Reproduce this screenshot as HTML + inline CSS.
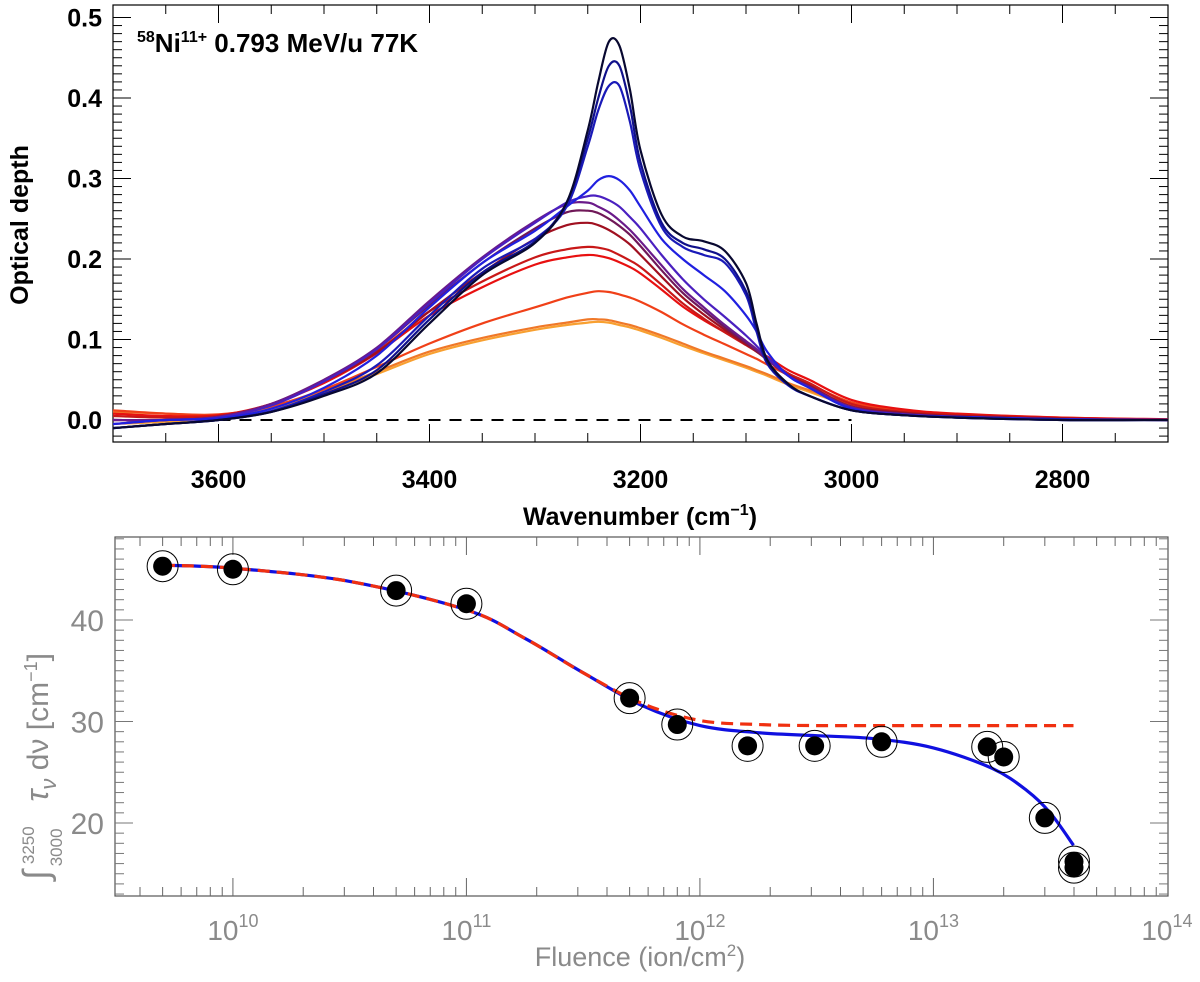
<!DOCTYPE html>
<html><head><meta charset="utf-8"><style>
html,body{margin:0;padding:0;background:#fff;}
svg{display:block;}
.t{font-family:"Liberation Sans",sans-serif;font-weight:bold;fill:#000;}
.g{font-family:"Liberation Sans",sans-serif;fill:#8a8a8a;}
</style></head><body>
<svg id="chart" width="1200" height="982" viewBox="0 0 1200 982">
<g id="topPanel"></g>
<g id="botPanel"></g>
</svg>
<script>
// ---------- top panel data ----------
const wn = [3700,3650,3600,3550,3500,3450,3400,3350,3300,3270,3250,3240,3230,3220,3210,3200,3180,3160,3140,3120,3100,3090,3080,3060,3040,3000,2950,2900,2800,2700];
const s1  = [-0.01,-0.005,0.0,0.01,0.03,0.058,0.12,0.18,0.22,0.27,0.36,0.42,0.47,0.465,0.41,0.335,0.255,0.228,0.222,0.21,0.17,0.12,0.075,0.045,0.03,0.012,0.006,0.003,0.0,0.0];
const s2  = [-0.01,-0.005,0.0,0.01,0.032,0.062,0.125,0.183,0.222,0.27,0.35,0.40,0.44,0.44,0.39,0.32,0.245,0.22,0.212,0.2,0.16,0.115,0.072,0.044,0.03,0.012,0.006,0.003,0.0,0.0];
const s3  = [-0.01,-0.005,0.0,0.011,0.035,0.068,0.13,0.188,0.225,0.265,0.34,0.385,0.415,0.415,0.37,0.31,0.24,0.215,0.205,0.195,0.155,0.11,0.07,0.043,0.03,0.012,0.006,0.003,0.0,0.0];
const s4  = [-0.005,0.0,0.002,0.014,0.04,0.08,0.14,0.195,0.235,0.265,0.285,0.298,0.303,0.298,0.285,0.265,0.225,0.2,0.18,0.16,0.13,0.11,0.085,0.055,0.04,0.014,0.006,0.004,0.001,0.0];
const s5  = [-0.005,0.0,0.003,0.018,0.048,0.088,0.145,0.2,0.245,0.27,0.278,0.278,0.273,0.265,0.252,0.238,0.205,0.175,0.15,0.128,0.105,0.092,0.078,0.055,0.04,0.015,0.007,0.004,0.001,0.0];
const s6  = [0.0,0.0,0.004,0.02,0.05,0.09,0.148,0.202,0.247,0.268,0.27,0.265,0.258,0.248,0.236,0.222,0.192,0.163,0.14,0.118,0.098,0.088,0.076,0.055,0.041,0.016,0.007,0.004,0.001,0.0];
const s7  = [0.0,0.0,0.004,0.02,0.05,0.088,0.143,0.195,0.238,0.258,0.26,0.257,0.25,0.241,0.23,0.216,0.186,0.158,0.136,0.115,0.096,0.086,0.075,0.055,0.042,0.016,0.008,0.004,0.001,0.0];
const s8  = [0.0,0.0,0.004,0.019,0.048,0.084,0.135,0.183,0.225,0.242,0.245,0.242,0.236,0.228,0.218,0.205,0.178,0.152,0.131,0.112,0.094,0.085,0.075,0.056,0.043,0.017,0.009,0.005,0.002,0.0];
const s9  = [0.005,0.003,0.005,0.02,0.048,0.085,0.135,0.172,0.202,0.212,0.215,0.214,0.211,0.205,0.198,0.19,0.168,0.145,0.126,0.109,0.093,0.085,0.076,0.058,0.046,0.02,0.01,0.006,0.002,0.0];
const s10 = [0.008,0.005,0.006,0.02,0.046,0.083,0.13,0.165,0.193,0.202,0.205,0.204,0.201,0.196,0.19,0.182,0.162,0.141,0.124,0.109,0.094,0.087,0.079,0.062,0.05,0.025,0.013,0.008,0.003,0.001];
const s11 = [0.012,0.008,0.007,0.017,0.038,0.066,0.095,0.12,0.14,0.152,0.158,0.16,0.159,0.156,0.152,0.147,0.134,0.119,0.106,0.094,0.082,0.076,0.069,0.056,0.045,0.022,0.012,0.007,0.003,0.0];
const s12 = [0.01,0.008,0.006,0.016,0.035,0.06,0.085,0.102,0.115,0.121,0.125,0.125,0.124,0.121,0.118,0.114,0.105,0.095,0.085,0.076,0.067,0.062,0.057,0.046,0.037,0.02,0.01,0.006,0.002,0.0];
const s13 = [-0.005,-0.002,0.003,0.014,0.033,0.057,0.082,0.099,0.112,0.118,0.121,0.122,0.121,0.118,0.115,0.111,0.102,0.092,0.083,0.074,0.065,0.06,0.055,0.044,0.035,0.018,0.008,0.005,0.002,0.0];
const series = [s13,s12,s11,s10,s9,s8,s7,s6,s5,s4,s3,s2,s1];
const seriesColors = ["#f8a030","#f07828","#f04018","#e81010","#c81818","#a01020","#701858","#6a1a8a","#4a20c0","#2020e0","#1a1ab8","#10108a","#080830"];
const xTicks = [3600,3400,3200,3000,2800];
const yTicks = [0.0,0.1,0.2,0.3,0.4,0.5];

// ---------- bottom panel data ----------
const fluence = [5e9,1e10,5e10,1e11,5e11,8e11,1.6e12,3.1e12,6e12,1.7e13,2e13,3e13,4e13,4e13];
const area = [45.3,45.0,42.9,41.6,32.3,29.7,27.6,27.6,28.0,27.5,26.5,20.5,16.2,15.6];
const fitLogF = [9.7,10,10.5,11,11.25,11.5,11.75,12,12.25,12.5,12.75,13,13.25,13.4,13.5,13.6];
const fitBlue = [45.4,45.1,43.8,41.0,38.2,34.8,31.6,29.6,28.9,28.6,28.3,27.4,25.4,23.2,21.0,17.8];
const fitRed  = [45.4,45.1,43.8,41.0,38.2,34.8,31.8,30.1,29.7,29.6,29.6,29.6,29.6,29.6,29.6,29.6];
const bxTicks = [10,11,12,13,14];
const byTicks = [20,30,40];

const NS="http://www.w3.org/2000/svg";
function mk(parent,tag,attrs,text){const el=document.createElementNS(NS,tag);for(const k in attrs)el.setAttribute(k,attrs[k]);if(text!==undefined)el.textContent=text;parent.appendChild(el);return el;}
function smooth(P){let d='M'+P[0][0].toFixed(1)+','+P[0][1].toFixed(1);
 for(let i=0;i<P.length-1;i++){const p0=P[Math.max(0,i-1)],p1=P[i],p2=P[i+1],p3=P[Math.min(P.length-1,i+2)];
  const c1=[p1[0]+(p2[0]-p0[0])/6,p1[1]+(p2[1]-p0[1])/6],c2=[p2[0]-(p3[0]-p1[0])/6,p2[1]-(p3[1]-p1[1])/6];
  d+=' C'+c1[0].toFixed(1)+','+c1[1].toFixed(1)+' '+c2[0].toFixed(1)+','+c2[1].toFixed(1)+' '+p2[0].toFixed(1)+','+p2[1].toFixed(1);}
 return d;}

// ===== TOP =====
const topG=document.getElementById('topPanel');
const TL=113,TR=1168,TT=5,TB=442;
const tx=w=>TL+(3700-w)*(TR-TL)/1000;
const ty=v=>420-v*805;
let e=mk(topG,'rect',{x:TL,y:TT,width:TR-TL,height:TB-TT,fill:'none',stroke:'#000','stroke-width':1.2});


for(let w=3700;w>=2700;w-=50){const L=(w%200===0)?18:9;
 mk(topG,'line',{x1:tx(w),x2:tx(w),y1:TB,y2:TB-L,stroke:'#000'});mk(topG,'line',{x1:tx(w),x2:tx(w),y1:TT,y2:TT+L,stroke:'#000'});}
for(let i=-2;i<=50;i++){const v=i/100;if(ty(v)<TT||ty(v)>TB)continue;const L=(i%10===0)?18:9;
 mk(topG,'line',{x1:TL,x2:TL+L,y1:ty(v),y2:ty(v),stroke:'#000'});mk(topG,'line',{x1:TR,x2:TR-L,y1:ty(v),y2:ty(v),stroke:'#000'});}
xTicks.forEach(w=>{const t=mk(topG,'text',{x:tx(w),y:488,'text-anchor':'middle','font-size':25,class:'t'},String(w));
 
 });
yTicks.forEach(v=>{const t=mk(topG,'text',{x:102,y:ty(v)+9,'text-anchor':'end','font-size':25,class:'t'},v.toFixed(1));
 
 });
e=mk(topG,'text',{x:640,y:525,'text-anchor':'middle','font-size':25,class:'t'});


e.innerHTML='Wavenumber (cm<tspan dy="-10" font-size="16">−1</tspan><tspan dy="10">)</tspan>';
e=mk(topG,'text',{x:0,y:0,'text-anchor':'middle','font-size':25,class:'t',transform:'translate(28,225) rotate(-90)'},'Optical depth');


e=mk(topG,'text',{x:137,y:52,'font-size':26,class:'t'});


e.innerHTML='<tspan dy="-10" font-size="16">58</tspan><tspan dy="10">Ni</tspan><tspan dy="-10" font-size="16">11+</tspan><tspan dy="10"> 0.793 MeV/u 77K</tspan>';
e=mk(topG,'line',{x1:tx(3600),x2:tx(3000),y1:ty(0),y2:ty(0),stroke:'#000','stroke-width':2,'stroke-dasharray':'12 9'});


series.forEach((s,i)=>{const P=s.map((v,j)=>[tx(wn[j]),ty(v)]);
 const p=mk(topG,'path',{d:smooth(P),fill:'none',stroke:seriesColors[i],'stroke-width':2.2,'stroke-linejoin':'round'});
 
 });

// ===== BOTTOM =====
const botG=document.getElementById('botPanel');
const BL=115,BR=1168,BT=537,BB=896;
const bx=lf=>BL+(lf-9.495)*233.5;
const by=v=>620-(v-40)*10.15;
e=mk(botG,'rect',{x:BL,y:BT,width:BR-BL,height:BB-BT,fill:'none',stroke:'#555','stroke-width':1.2});


for(let d=9;d<=13;d++)for(let m=1;m<=9;m++){const lf=d+Math.log10(m);if(bx(lf)<BL||bx(lf)>BR)continue;const L=m===1?18:9;
 mk(botG,'line',{x1:bx(lf),x2:bx(lf),y1:BB,y2:BB-L,stroke:'#666'});mk(botG,'line',{x1:bx(lf),x2:bx(lf),y1:BT,y2:BT+L,stroke:'#666'});}
for(let v=13;v<=48;v++){const L=v%10===0?18:9;
 mk(botG,'line',{x1:BL,x2:BL+L,y1:by(v),y2:by(v),stroke:'#777'});mk(botG,'line',{x1:BR,x2:BR-L,y1:by(v),y2:by(v),stroke:'#777'});}
bxTicks.forEach(d=>{const t=mk(botG,'text',{x:bx(d),y:940,'text-anchor':'middle','font-size':28,class:'g'});
 
 
 t.innerHTML='10<tspan dy="-13" font-size="18">'+d+'</tspan>';});
byTicks.forEach(v=>{const t=mk(botG,'text',{x:104,y:by(v)+11,'text-anchor':'end','font-size':30,class:'g'},String(v));
 
 });
e=mk(botG,'text',{x:640,y:966,'text-anchor':'middle','font-size':27,class:'g'});


e.innerHTML='Fluence (ion/cm<tspan dy="-10" font-size="17">2</tspan><tspan dy="10">)</tspan>';
e=mk(botG,'text',{x:0,y:0,'font-size':30,class:'g',transform:'translate(48,880) rotate(-90)','font-family':'Liberation Serif, serif'});


e.innerHTML='<tspan font-style="italic" font-size="36">∫</tspan><tspan dx="6" dy="-14" font-size="17" font-family="Liberation Sans, sans-serif">3250</tspan><tspan dx="-40" dy="28" font-size="17" font-family="Liberation Sans, sans-serif">3000</tspan><tspan dx="18" dy="-14" font-style="italic" font-size="32"> τ</tspan><tspan dy="8" font-size="22" font-style="italic">ν</tspan><tspan dy="-8" font-family="Liberation Sans, sans-serif">  dν  [cm</tspan><tspan dy="-11" font-size="18" font-family="Liberation Sans, sans-serif">−1</tspan><tspan dy="11" font-family="Liberation Sans, sans-serif">]</tspan>';
const fitPts=(arr)=>arr.map((v,j)=>[bx(fitLogF[j]),by(v)]);
e=mk(botG,'path',{d:smooth(fitPts(fitBlue)),fill:'none',stroke:'#1010e0','stroke-width':3.2});


e=mk(botG,'path',{d:smooth(fitPts(fitRed)),fill:'none',stroke:'#f03010','stroke-width':3.2,'stroke-dasharray':'12 7'});


fluence.forEach((f,i)=>{const cx=bx(Math.log10(f)),cy=by(area[i]);
 const c1=mk(botG,'circle',{cx:cx,cy:cy,r:15.5,fill:'none',stroke:'#000','stroke-width':1});
 
 
 const c2=mk(botG,'circle',{cx:cx,cy:cy,r:9.5,fill:'#000'});
 
 });
</script>
</body></html>
